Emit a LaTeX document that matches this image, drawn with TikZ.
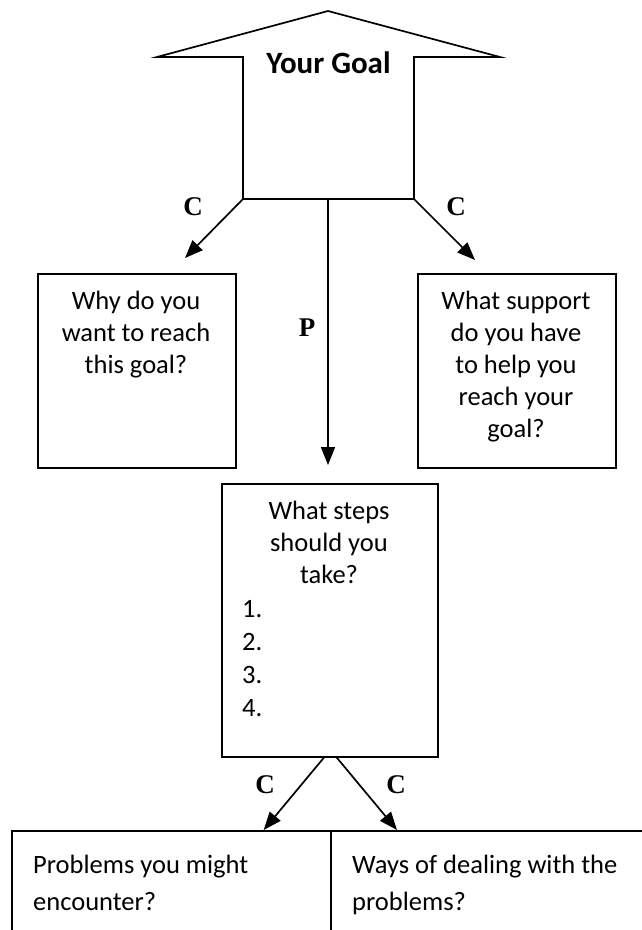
\documentclass[tikz,border=0pt]{standalone}
\usepackage{fontspec}
\setmainfont{Carlito}
\newfontfamily\serifb{Liberation Serif}
\usetikzlibrary{arrows.meta,calc}
\begin{document}
\begin{tikzpicture}[x=1pt,y=-1pt,
  ln/.style={line width=1.7pt, line join=miter},
  arr/.style={line width=1.7pt, -{Triangle[length=18pt,width=14pt]}},
  box/.style={draw, line width=1.7pt, inner sep=0pt, anchor=north west},
  txt/.style={font=\fontsize{26.5}{32}\selectfont, inner sep=0pt, align=center},
  lbl/.style={font=\serifb\bfseries\fontsize{27}{32}\selectfont, inner sep=0pt}]
\useasboundingbox (0,0) rectangle (641,930);
\fill[white] (0,0) rectangle (641,930);

% goal arrow
\coordinate (wl) at (157,57);
\coordinate (apex) at (328,11);
\coordinate (wr) at (500,57);
\coordinate (sr) at (414,57);
\coordinate (br) at (414,199);
\coordinate (bm) at (328,199);
\coordinate (bl) at (243,199);
\coordinate (sl) at (243,57);
\draw[ln] (wl) -- (apex) -- (wr) -- (sr) -- (br) -- (bl) -- (sl) -- cycle;
\node[font=\bfseries\fontsize{31}{37}\selectfont, anchor=base, inner sep=0pt] (goal) at (328.5,73) {Your Goal};

% boxes
\node[box, minimum width=198pt, minimum height=194pt] (why) at (37,273) {};
\node[box, minimum width=198pt, minimum height=194pt] (sup) at (417,273) {};
\node[box, minimum width=216pt, minimum height=273pt] (steps) at (221,483) {};
\node[box, minimum width=319pt, minimum height=150pt] (prob) at (11,830) {};
\node[box, minimum width=330pt, minimum height=150pt] (ways) at (330,830) {};

% texts
\node[txt, anchor=north] (whyt) at (136,290.5) {Why do you\\want to reach\\this goal?};
\node[txt, anchor=north] (supt) at (516,290.5) {What support\\do you have\\to help you\\reach your\\goal?};
\node[txt, anchor=north] (stepst) at (329,500.5) {What steps\\should you\\take?};
\node[txt, align=left, anchor=north west, font=\fontsize{26.5}{33}\selectfont] (list) at (242,600) {1.\\2.\\3.\\4.};
\node[txt, align=left, anchor=north west, font=\fontsize{26.5}{37}\selectfont] (probt) at (33,855) {Problems you might\\encounter?};
\node[txt, align=left, anchor=north west, font=\fontsize{26.5}{37}\selectfont] (wayst) at (352,855) {Ways of dealing with the\\problems?};

% connectors
\coordinate (tl) at (185,258);
\coordinate (tr) at (475,260);
\coordinate (tm) at (328,465);
\draw[arr] (bl) -- (tl);
\draw[arr] (br) -- (tr);
\draw[arr] (bm) -- (tm);
\draw[arr] ([xshift=-6pt]steps.south) -- ([xshift=-68pt]prob.north east);
\draw[arr] ([xshift=7pt]steps.south) -- ([xshift=67pt]ways.north west);

% labels
\node[lbl] (c1) at (193,207) {C};
\node[lbl] (c2) at (456,207) {C};
\node[lbl] (p) at (307,328) {P};
\node[lbl] (c3) at (265,785) {C};
\node[lbl] (c4) at (396,785) {C};
\end{tikzpicture}
\end{document}
